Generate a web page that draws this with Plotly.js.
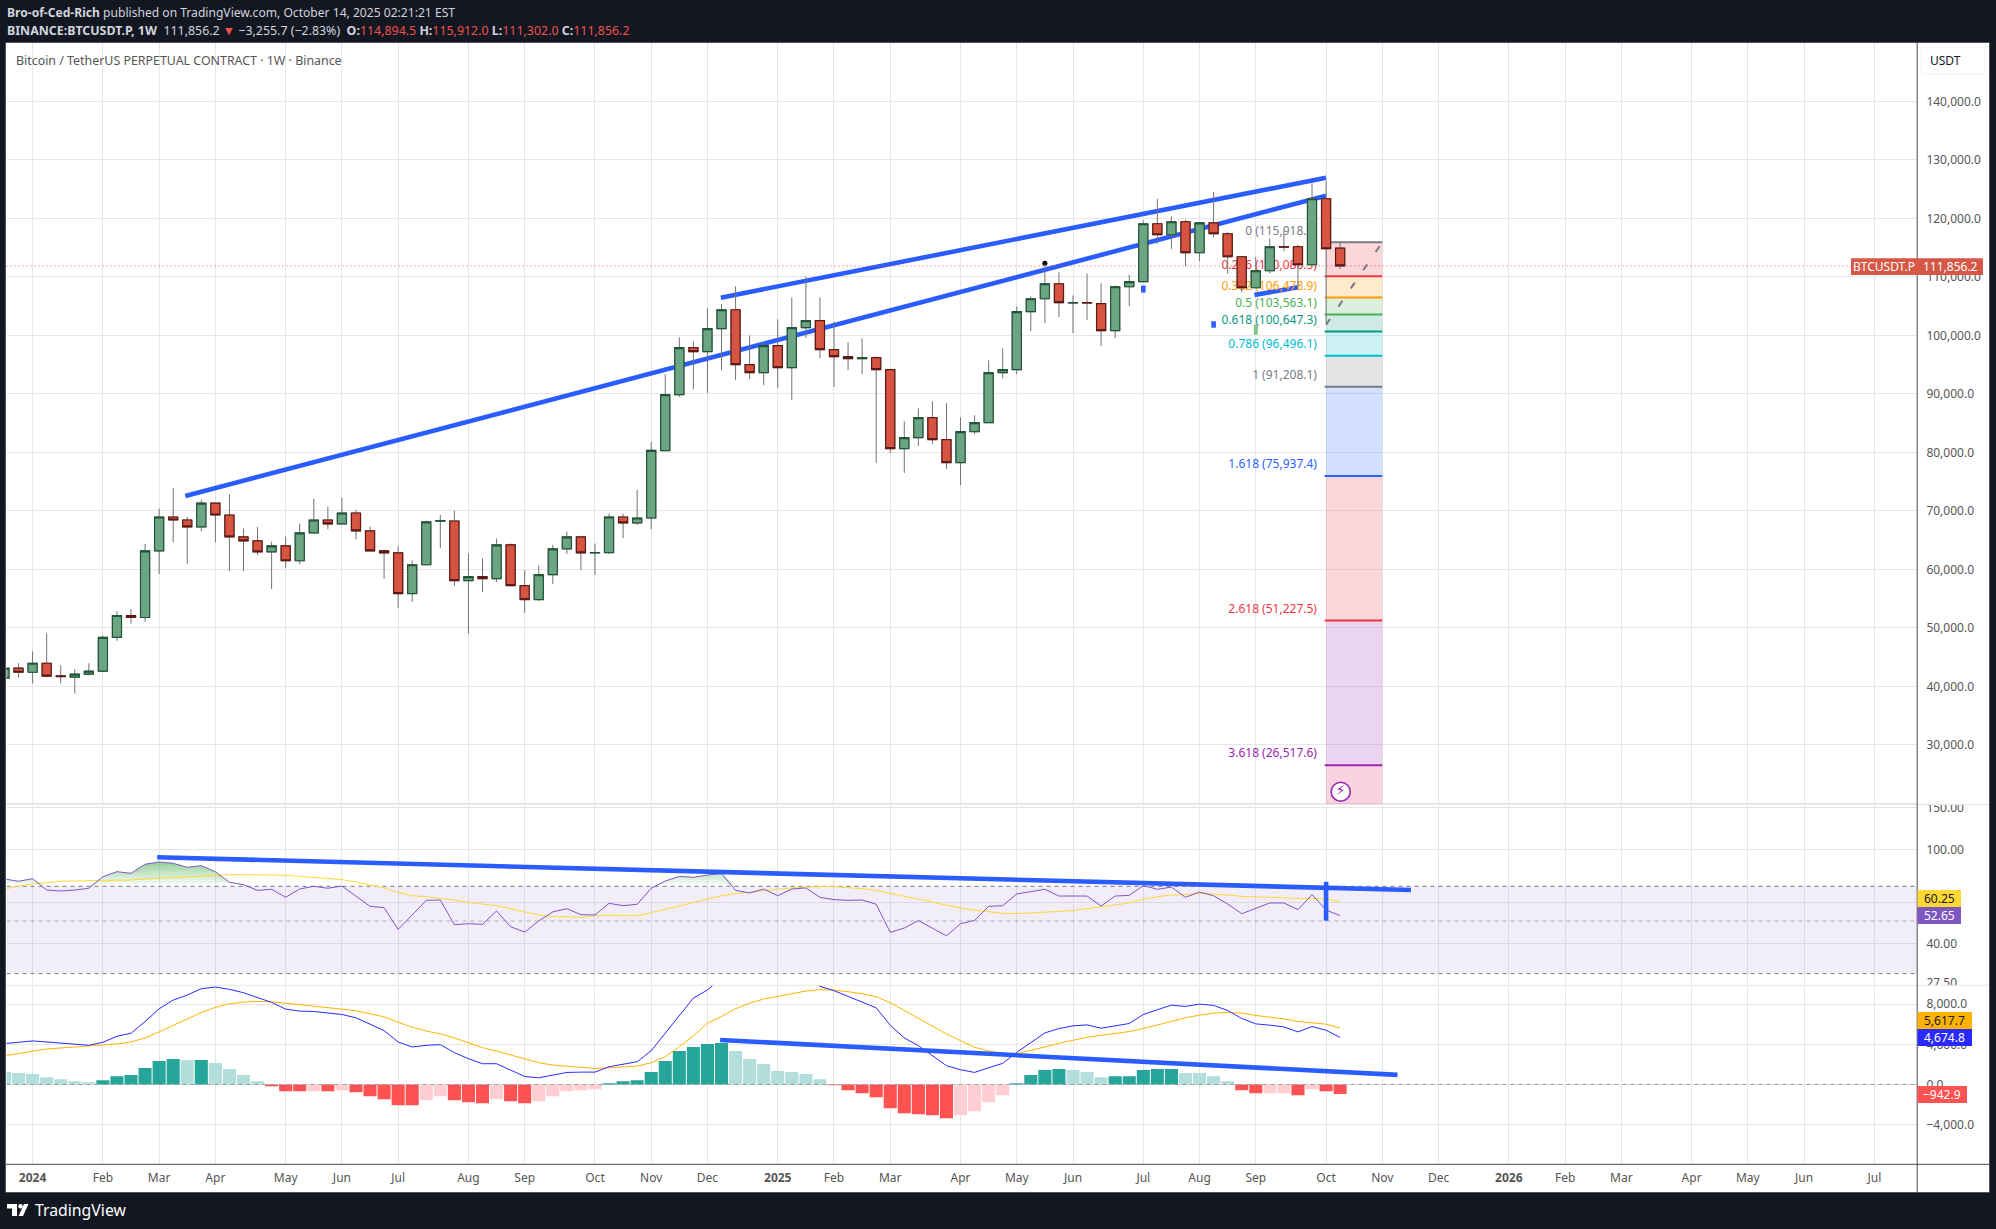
<!DOCTYPE html>
<html><head><meta charset="utf-8">
<script src="https://cdn.plot.ly/plotly-3.0.1.min.js"></script>
<style>html,body{margin:0;padding:0;background:#131722;overflow:hidden}#c{width:1996px;height:1229px}</style>
</head><body><div id="c"></div>
<script>
const opens=[41390,43090,42400,43940,41785,41560,42070,42580,48360,52100,51760,63160,68940,68430,67240,71320,69280,65540,64860,62990,64010,61460,66220,68430,67750,69620,66560,63160,62820,55850,60780,68230,68260,58060,58740,58400,64180,57210,54830,59080,63500,65540,62820,62860,68940,67920,68770,80280,89850,97880,97200,101130,104370,94975,93610,98220,94465,101300,102495,97540,96340,96000,96170,94120,80625,82500,85920,82165,78235,83530,85065,93610,94120,104030,106250,108815,105520,105570,105400,100785,108300,109160,119065,117185,119410,114110,119235,117360,113430,108130,111035,115135,115135,112060,123340,114894.5];
const highs=[43090,43940,45980,49040,43600,42920,43940,48700,52840,53180,64350,70360,73880,68940,71890,71320,72860,66960,67240,64750,65600,67810,72060,70700,72230,70190,67300,63390,63900,61520,68320,69280,70020,62710,61860,65260,64410,59815,60670,64180,66450,65540,64410,69510,69510,73590,81760,93325,99650,98960,104600,105285,108360,99990,98905,102720,106480,110010,106480,102320,98790,99475,96400,94295,85295,87515,88710,88370,85980,86320,95720,97770,104940,106650,112230,110750,106820,110580,108870,108530,110350,119635,123340,120320,119750,119235,124535,117640,113600,113370,116560,117870,115480,125960,126355,115912];
const lows=[41390,41500,40480,41500,40480,38780,41840,42410,47790,50690,51030,59190,64630,60890,66500,64630,59700,59700,62420,56640,60210,60890,66220,66850,67750,65145,63160,58340,53410,54430,60780,63610,57150,48990,56130,57830,57210,52560,54600,57490,62590,59870,59020,62590,65315,67580,66850,80280,89450,90760,90135,94010,92355,92530,91500,90990,88940,99530,96060,91160,94065,93380,78175,79885,76470,81080,81425,77150,74420,83075,85065,92640,93380,100730,102095,103120,100385,102610,98165,99530,104990,109160,115650,114740,111830,112690,116790,110525,107390,108130,110580,114400,107960,112060,102000,111302];
const closes=[43090,42400,43940,41730,41670,42070,42580,48360,52100,51760,63160,68940,68430,67240,71320,69280,65540,64860,62990,64010,61460,66220,68430,67750,69620,66560,63160,62820,55850,60780,68090,68320,58060,58740,58400,64180,57210,54830,59080,63500,65540,62820,62860,68940,67920,68770,80340,89850,97880,97200,101130,104370,94975,93610,98220,94465,101300,102495,97540,96340,96000,96170,94120,80625,82500,85920,82165,78235,83530,85065,93610,94120,104030,106250,108815,105570,105570,105520,100785,108300,109160,119065,117185,119410,114110,119235,117360,113430,108130,111035,115135,115080,112060,123340,114795,111856.2];
const rsi=[75.2,73.5,75.4,67.5,66.9,67.5,68.7,76.9,80.7,79.4,86.7,88.65,87.5,84.2,85.5,80.7,72.8,71.1,67.3,68.0,62.9,68.2,70,68.7,70.2,63.7,57.65,56.9,46.1,53.0,61.1,61.3,48.2,48.7,48.4,55.1,47.3,44.9,50.0,54.6,56.35,53.15,53.0,59.35,58.0,58.8,68.7,73.7,77.1,76.4,78.1,79.2,67.3,65.6,68.2,63.9,68.2,68.9,62.9,61.5,61.1,61.3,58.8,44.8,46.7,50.2,46.7,43.3,48.7,50.3,57.65,58.0,65.0,66.5,68.0,63.7,63.7,63.7,57.8,63.7,64.1,70.5,68.0,69.5,62.9,66.25,63.9,58.95,53.65,56.55,59.55,59.55,55.8,64.6,55.6,52.65];
const rsiMa=[68.2,70.2,71.6,72.5,73.5,73.7,73.7,74.0,74.2,74.4,75.4,75.9,76.1,76.6,77.4,78.1,78.4,78.4,78.4,78.4,77.9,77.1,76.4,75.7,74.7,73.0,70.9,68.9,66.0,63.9,63.3,62.5,61.3,59.9,58.8,58.0,56.35,54.7,53.0,52.3,52.1,51.8,52.6,52.8,52.6,52.6,54.2,55.95,58.0,59.9,61.9,63.9,65.2,66.25,67.1,68.0,68.9,69.5,69.8,69.8,69.3,68.4,67.3,65.4,63.3,61.5,59.9,58.2,56.7,55.5,54.6,53.9,53.65,54.0,54.6,54.9,55.3,56.35,57.3,58.4,59.55,61.7,63.3,64.35,64.6,65.4,65.0,64.35,63.5,63.1,62.7,62.5,62.3,62.3,61.9,60.25];
const macd=[4067,4200,4333,4233,4100,4000,3900,4200,4800,5100,6267,7533,8400,8900,9533,9700,9467,9133,8633,8167,7500,7300,7267,7100,6967,6633,5967,5367,4233,3733,3900,3967,3167,2567,2067,2067,1433,800,667,900,1200,1233,1233,1767,2033,2267,3367,5100,6833,8600,9400,10600,11433,11767,11767,11600,11267,10600,9767,9333,8767,8233,7633,5900,4633,3867,2833,1867,1467,1200,1667,2100,3200,4200,5133,5567,5833,5933,5600,5833,6067,6967,7467,7900,7767,8000,7867,7367,6567,6033,5900,5733,5233,5767,5400,4674.8];
const signal=[2867,3100,3367,3533,3633,3733,3767,3867,4033,4233,4633,5233,5900,6533,7167,7667,8033,8200,8267,8233,8100,7933,7800,7633,7500,7333,7067,6733,6200,5700,5333,5033,4633,4133,3667,3333,2933,2500,2167,1933,1800,1667,1600,1667,1733,1833,2167,2767,3767,4833,6100,6767,7533,8100,8500,8767,9000,9300,9433,9400,9233,9033,8733,8133,7367,6600,5833,5033,4367,3700,3333,3100,3067,3367,3733,4100,4433,4700,4900,5067,5267,5567,5933,6333,6633,6900,7100,7167,7100,6867,6700,6533,6267,6167,6000,5617.7];
const hist=[1233,1133,1033,733,533,333,233,433,833,933,1633,2333,2533,2433,2433,2133,1533,933,333,-167,-667,-667,-667,-667,-567,-767,-1167,-1467,-2067,-2067,-1567,-1167,-1567,-1767,-1867,-1467,-1667,-1867,-1667,-1167,-667,-567,-467,133,333,433,1233,2333,3333,3733,4033,4133,3333,2533,2033,1333,1233,1033,533,-67,-567,-867,-1267,-2367,-2867,-2967,-3067,-3367,-3067,-2667,-1767,-1067,133,933,1433,1533,1433,1233,733,833,833,1433,1533,1533,1133,1133,833,333,-567,-867,-867,-867,-1067,-467,-667,-942.9];
const histStrong=[0,0,0,0,0,0,0,1,1,1,1,1,1,0,1,0,0,0,0,1,1,1,0,1,0,1,1,1,1,1,0,0,1,1,1,0,1,1,0,0,0,0,0,1,1,1,1,1,1,1,1,1,0,0,0,0,0,0,0,1,1,1,1,1,1,1,1,1,0,0,0,0,1,1,1,1,0,0,0,1,1,1,1,1,0,0,0,0,1,1,0,0,1,0,1,1];
const fibRatios=[0,0.236,0.382,0.5,0.618,0.786,1,1.618,2.618,3.618];
const fibPrices=[115918.1,110086.5,106478.9,103563.1,100647.3,96496.1,91208.1,75937.4,51227.5,26517.6];
const fibColors=['#787B86','#F23645','#FF9800','#4CAF50','#089981','#00BCD4','#787B86','#2962FF','#F23645','#9C27B0','#E91E63'];
const monthTicks=[['2024',0],['Feb',5],['Mar',9],['Apr',13],['May',18],['Jun',22],['Jul',26],['Aug',31],['Sep',35],['Oct',40],['Nov',44],['Dec',48],['2025',53],['Feb',57],['Mar',61],['Apr',66],['May',70],['Jun',74],['Jul',79],['Aug',83],['Sep',87],['Oct',92],['Nov',96],['Dec',100],['2026',105],['Feb',109],['Mar',113],['Apr',118],['May',122],['Jun',126],['Jul',131]];
const priceTicks=[20000,30000,40000,50000,60000,70000,80000,90000,100000,110000,120000,130000,140000];
const rsiTicks=[27.5,40,60,100,150];
const macdTicks=[-4000,0,4000,8000];
const trendLines=[{i:[10.86,92],p:[72530,123860]},{i:[48.95,92],p:[106430,126940]},{i:[86.9,90],p:[106890,108205]},{i:[79,79],p:[107300,108500]},{i:[84,84],p:[101300,102400]}];
const rsiTrend={i:[8.86,98.04],v:[92.8,67.5]};
const rsiTick={i:[92,92],v:[73.2,50.1]};
const macdTrend={i:[48.9,97.08],v:[4430,960]};
const rsiGlowSteps=[72,74,76,78,80,82,84,86,88,90];

const W=1996,H=1229,FONT='"Noto Sans",sans-serif',GRID='#E6E6E8',AXC='#4A4A4A',BLUE='#2B5CFF',TW=4.6;
const T0=Date.UTC(2024,0,1),WK=7*864e5;
const d=i=>new Date(T0+i*WK).toISOString().slice(0,19).replace('T',' ');
const XL=-1.856,XR=134.03;
const dates=opens.map((_,k)=>d(k-2));
const yrange=[19709,149966];
const X=p=>p/W,Y=p=>1-p/H;
const fx=[d(XL),d(XR)];
const ln=(x,y,c,w,extra)=>({type:'scatter',mode:'lines',x,y,line:Object.assign({color:c,width:w},extra||{}),hoverinfo:'skip',showlegend:false});
const traces=[];
const fibA=d(92),fibB=d(96);
const hex=(h,a)=>`rgba(${parseInt(h.slice(1,3),16)},${parseInt(h.slice(3,5),16)},${parseInt(h.slice(5,7),16)},${a})`;
const zoneEdges=fibPrices.concat([yrange[0]]);
for(let k=0;k<fibPrices.length;k++){
  traces.push({type:'scatter',mode:'none',x:[fibA,fibB,fibB,fibA,fibA],y:[zoneEdges[k],zoneEdges[k],zoneEdges[k+1],zoneEdges[k+1],zoneEdges[k]],fill:'toself',fillcolor:hex(fibColors[k+1],0.2),hoverinfo:'skip',showlegend:false});
}
fibPrices.forEach((p,k)=>traces.push(ln([d(91.9),fibB],[p,p],fibColors[k],2)));
trendLines.forEach(t=>traces.push(ln(t.i.map(d),t.p,BLUE,TW)));
traces.push(ln([d(87),d(87)],[100100,101800],'#81C784',4));
traces.push(ln(fx,[111856.2,111856.2],'#D65745',1,{dash:'1px,3px'}));
traces.push({type:'scatter',mode:'text',x:fibPrices.map(()=>d(91.35)),y:fibPrices.map(p=>p+800),text:fibPrices.map((p,k)=>fibRatios[k]+' ('+p.toLocaleString('en-US',{minimumFractionDigits:1,maximumFractionDigits:1})+')'),textposition:'top left',textfont:{family:FONT,size:12,color:fibColors.slice(0,10)},hoverinfo:'skip',showlegend:false});
traces.push(ln([d(92),d(96)],[101800,115918.1],'#787B86',2,{dash:'7px,15px'}));
traces.push({type:'scatter',mode:'markers',x:[d(72)],y:[112300],marker:{size:5,color:'#000'},hoverinfo:'skip',showlegend:false});
traces.push({type:'scatter',mode:'markers+text',x:[d(93.04)],y:[21980],marker:{size:19,color:'#fff',line:{color:'#9C27B0',width:1.6}},text:['⚡︎'],textposition:'middle center',textfont:{size:14,color:'#9C27B0',family:'"DejaVu Sans"'},hoverinfo:'skip',showlegend:false});
const cc=(o,h,l,c,inc,dec,wd)=>({type:'candlestick',x:dates,open:o,high:h,low:l,close:c,yaxis:'y4',whiskerwidth:0,hoverinfo:'skip',showlegend:false,
  increasing:{line:{color:inc[0],width:wd},fillcolor:inc[1]},decreasing:{line:{color:dec[0],width:wd},fillcolor:dec[1]}});
traces.push(cc(opens,highs,lows,closes,['#737375','#737375'],['#737375','#737375'],1));
traces.push(cc(opens,opens.map((o,k)=>Math.max(o,closes[k])),opens.map((o,k)=>Math.min(o,closes[k])),closes,['#225437','#6BA583'],['#5B1A13','#D75442'],1.2));
const r2=(o)=>Object.assign({xaxis:'x',yaxis:'y2'},o);
traces.push(r2(ln(fx,[70,70],'#787B86',1,{dash:'4px,4px'})));
traces.push(r2(Object.assign(ln(fx,[30,30],'#787B86',1,{dash:'4px,4px'}),{fill:'tonexty',fillcolor:'rgba(126,87,194,0.1)'})));
traces.push(r2(ln(fx,[50,50],'rgba(120,123,134,0.55)',1,{dash:'4px,4px'})));
traces.push(r2({type:'scatter',mode:'none',x:dates,y:dates.map(()=>70),hoverinfo:'skip',showlegend:false}));
rsiGlowSteps.forEach((t,n)=>traces.push(r2({type:'scatter',mode:'none',x:dates,y:rsi.map(v=>Math.min(Math.max(v,70),t)),fill:'tonexty',fillcolor:`rgba(76,175,80,${(0.06+n*0.062).toFixed(3)})`,hoverinfo:'skip',showlegend:false})));
traces.push(r2(ln(dates,rsiMa,'#FDD835',1)));
traces.push(r2(ln(dates,rsi,'#7E57C2',1)));
traces.push(r2(ln(rsiTrend.i.map(d),rsiTrend.v,BLUE,TW)));
traces.push(r2(ln(rsiTick.i.map(d),rsiTick.v,BLUE,TW)));
const r3=(o)=>Object.assign({xaxis:'x',yaxis:'y3'},o);
traces.push(r3({type:'bar',x:dates,y:hist,marker:{color:hist.map((v,k)=>v>=0?(histStrong[k]?'#26A69A':'#B2DFDB'):(histStrong[k]?'#FF5252':'#FFCDD2')),line:{width:0}},hoverinfo:'skip',showlegend:false}));
traces.push(r3(ln(fx,[0,0],'#9A9CA4',1,{dash:'4px,4px'})));
traces.push(r3(ln(dates,signal,'#FFB300',1)));
traces.push(r3(ln(dates,macd,'#2A2AFF',1)));
traces.push(r3(ln(macdTrend.i.map(d),macdTrend.v,BLUE,TW)));

const ya=(dom,extra)=>Object.assign({domain:dom,side:'right',anchor:'x',showgrid:true,gridcolor:GRID,gridwidth:1,zeroline:false,showline:false,ticks:'outside',ticklen:6,tickcolor:'rgba(0,0,0,0)',tickfont:{family:FONT,size:12,color:'#555'},tickmode:'array',fixedrange:true},extra);
const fmt=(v,dg)=>(v<0?'−':'')+Math.abs(v).toLocaleString('en-US',{minimumFractionDigits:dg,maximumFractionDigits:dg});
const rect=(x0,y0,x1,y1,fill,lw,lc,layer)=>({type:'rect',xref:'paper',yref:'paper',x0:X(x0),x1:X(x1),y0:Y(y0),y1:Y(y1),fillcolor:fill,line:{width:lw||0,color:lc||fill},layer:layer||'above'});
const hl=(x0,x1,y,c)=>({type:'line',xref:'paper',yref:'paper',x0:X(x0),x1:X(x1),y0:Y(y),y1:Y(y),line:{color:c,width:1},layer:'above'});
const vl=(x,y0,y1,c)=>({type:'line',xref:'paper',yref:'paper',x0:X(x),x1:X(x),y0:Y(y0),y1:Y(y1),line:{color:c,width:1},layer:'above'});
const shapes=[
 rect(6,43,1989,1192,'#FFFFFF',0,null,'below'),
 rect(1918,985.6,1989,992,'#FFFFFF'),
 rect(1918,795,1989,804.6,'#FFFFFF'),
 hl(6,1989,804.6,GRID),hl(6,1989,985.3,GRID),
 hl(6,1989,1164.3,AXC),vl(1917.2,43,1192,AXC),
 {type:'rect',xref:'paper',yref:'paper',x0:X(5.5),x1:X(1989.5),y0:Y(42.5),y1:Y(1192.5),line:{color:'#50535E',width:1},fillcolor:'rgba(0,0,0,0)',layer:'above'},
 rect(1921,47,1985,74,'#FFFFFF',1,'#F0F3FA'),
 rect(1851,258.3,1983,275,'#D65745'),
 rect(1917.5,890,1961,907,'#FDD835'),rect(1917.5,907,1961,924,'#7E57C2'),
 rect(1917.5,1012,1972,1029,'#FFB300'),rect(1917.5,1029,1972,1046,'#2A2AFF'),
 rect(1917.5,1086,1967,1103,'#FF5252'),
 rect(7,1204,17,1208.5,'#FFFFFF'),rect(12,1204,17,1216,'#FFFFFF'),
 {type:'circle',xref:'paper',yref:'paper',x0:X(18.2),x1:X(22.8),y0:Y(1204),y1:Y(1208.6),fillcolor:'#FFFFFF',line:{width:0},layer:'above'},
 {type:'path',xref:'paper',yref:'paper',path:`M ${X(24)} ${Y(1204)} L ${X(28.5)} ${Y(1204)} L ${X(23)} ${Y(1216)} L ${X(18.5)} ${Y(1216)} Z`,fillcolor:'#FFFFFF',line:{width:0},layer:'above'}
];
const ann=(px,py,text,color,size,anchor)=>({xref:'paper',yref:'paper',x:X(px),y:Y(py),text,showarrow:false,xanchor:anchor||'left',yanchor:'middle',font:{family:FONT,size:size||12,color:color||'#D1D4DC'},borderpad:0});
const RED='#F0524B',GR='#D1D4DC';
const sp=(c,t)=>`<span style="color:${c}">${t}</span>`;
const annotations=[
 ann(6,12.5,'<b>Bro-of-Ced-Rich</b> published on TradingView.com, October 14, 2025 02:21:21 EST',GR,12.1),
 ann(6,30,'<b>BINANCE:BTCUSDT.P, 1W</b>  111,856.2 '+sp(RED,'▼')+' −3,255.7 (−2.83%)  <b>O:</b>'+sp(RED,'114,894.5')+' <b>H:</b>'+sp(RED,'115,912.0')+' <b>L:</b>'+sp(RED,'111,302.0')+' <b>C:</b>'+sp(RED,'111,856.2'),GR,12.4),
 ann(15,60,'Bitcoin / TetherUS PERPETUAL CONTRACT · 1W · Binance','#555',12.4),
 ann(1929,60.5,'USDT','#131722',12),
 ann(1884,266.6,'BTCUSDT.P','#FFFFFF',12,'center'),
 ann(1950,266.6,'111,856.2','#FFFFFF',12,'center'),
 ann(1939,898.6,'60.25','#131722',12,'center'),ann(1939,915.6,'52.65','#FFFFFF',12,'center'),
 ann(1944.5,1020.6,'5,617.7','#131722',12,'center'),ann(1944.5,1037.6,'4,674.8','#FFFFFF',12,'center'),
 ann(1942,1094.6,'−942.9','#FFFFFF',12,'center'),
 ann(34,1209.5,'TradingView','#FFFFFF',15.8)
];
const layout={width:W,height:H,margin:{l:0,r:0,t:0,b:0},paper_bgcolor:'#131722',plot_bgcolor:'rgba(0,0,0,0)',showlegend:false,hovermode:false,
 boxgap:0.07,boxmode:'overlay',bargap:0.07,barmode:'overlay',
 xaxis:{domain:[X(6.5),X(1917)],type:'date',range:fx,anchor:'y3',tickmode:'array',tickvals:monthTicks.map(t=>d(t[1])),ticktext:monthTicks.map(t=>/^20/.test(t[0])?'<b>'+t[0]+'</b>':t[0]),tickangle:0,showgrid:true,gridcolor:GRID,gridwidth:1,zeroline:false,showline:false,ticks:'outside',ticklen:2,tickcolor:'rgba(0,0,0,0)',tickfont:{family:FONT,size:12,color:'#555'},rangeslider:{visible:false},fixedrange:true},
 yaxis:ya([Y(805),Y(43)],{range:yrange,tickvals:priceTicks,ticktext:priceTicks.map(v=>v===20000?'':fmt(v,1))}),
 yaxis4:{domain:[Y(805),Y(43)],range:yrange,overlaying:'y',side:'right',anchor:'x',visible:false,showgrid:false,fixedrange:true},
 yaxis2:ya([Y(983),Y(806)],{type:'log',range:[1.4376,2.1836],tickvals:rsiTicks,ticktext:rsiTicks.map(v=>fmt(v,2))}),
 yaxis3:ya([Y(1164.3),Y(985.3)],{range:[-7940,9870],tickvals:macdTicks,ticktext:macdTicks.map(v=>fmt(v,1))}),
 shapes,annotations};
Plotly.newPlot('c',traces,layout,{staticPlot:true,displayModeBar:false});
</script></body></html>
